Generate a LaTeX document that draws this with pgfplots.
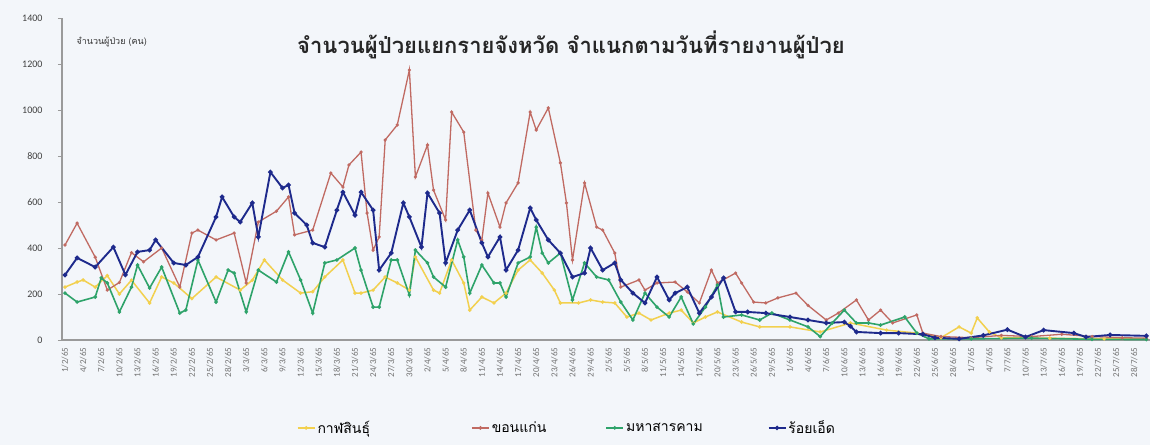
\documentclass[border=0pt]{standalone}
\usepackage{pgfplots}
\pgfplotsset{compat=1.18}
\usepackage{fontspec}
\setmainfont{Carlito}
\newfontfamily\thai[Script=Thai]{Loma}
\usetikzlibrary{backgrounds}

\definecolor{bgc}{HTML}{F3F6FA}
\definecolor{kls}{HTML}{F2D04E}
\definecolor{kkn}{HTML}{C06A62}
\definecolor{mks}{HTML}{2EA36A}
\definecolor{roi}{HTML}{1E2A8C}
\definecolor{axc}{HTML}{9A9A9A}

\begin{document}
\begin{tikzpicture}
\begin{axis}[
    at={(0,0)}, anchor=south west,
    scale only axis,
    width=1088pt, height=322pt,
    xmin=-0.5, xmax=179.6,
    ymin=0, ymax=1400,
    axis x line*=bottom, axis y line*=left,
    axis line style={axc, line width=1.2pt},
    ytick={0,200,...,1400},
    xtick={0,3,...,177},
    xticklabels={1/2/65,4/2/65,7/2/65,10/2/65,13/2/65,16/2/65,19/2/65,22/2/65,25/2/65,28/2/65,
                 3/3/65,6/3/65,9/3/65,12/3/65,15/3/65,18/3/65,21/3/65,24/3/65,27/3/65,30/3/65,
                 2/4/65,5/4/65,8/4/65,11/4/65,14/4/65,17/4/65,20/4/65,23/4/65,26/4/65,29/4/65,
                 2/5/65,5/5/65,8/5/65,11/5/65,14/5/65,17/5/65,20/5/65,23/5/65,26/5/65,29/5/65,
                 1/6/65,4/6/65,7/6/65,10/6/65,13/6/65,16/6/65,19/6/65,22/6/65,25/6/65,28/6/65,
                 1/7/65,4/7/65,7/7/65,10/7/65,13/7/65,16/7/65,19/7/65,22/7/65,25/7/65,28/7/65},
    x tick label style={rotate=90, anchor=east, font=\fontsize{9}{9}\selectfont, text=black!55},
    y tick label style={font=\fontsize{10}{10}\selectfont, text=black!75, xshift=-12pt},
    /pgf/number format/assume math mode=true,
    /pgf/number format/1000 sep={},
    scaled y ticks=false,
    major tick length=4pt,
    xtick style={draw=none},
    ytick style={axc, line width=1pt},
    tick align=outside,
    legend columns=4,
    legend style={at={(0.464,-0.273)}, anchor=center, draw=none, fill=none,
        font=\thai\fontsize{14}{14}\selectfont,
        /tikz/column 2/.append style={column sep=99pt},
        /tikz/column 4/.append style={column sep=57pt},
        /tikz/column 6/.append style={column sep=63pt}},
    legend image post style={line width=1.6pt},
    every axis plot/.append style={mark=*},
]
\addplot[kls, line width=1.5pt, mark size=0.9pt] coordinates {
(0,230)(2,252)(3,261)(5,230)(7,280)(9,200)(11,260)(14,161)(16,274)(18,248)(21,180)(25,274)(29,217)(31,260)(33,348)(36,261)(39,204)(41,210)(43,274)(46,348)(48,204)(49,204)(51,217)(53,274)(55,248)(57,217)(58,361)(61,217)(62,204)(64,348)(66,248)(67,130)(69,187)(71,161)(73,204)(75,304)(77,348)(79,291)(81,217)(82,161)(85,161)(87,174)(89,165)(91,161)(93,100)(95,117)(97,87)(100,117)(102,130)(104,74)(106,100)(108,122)(112,78)(115,57)(120,57)(125,35)(130,74)(136,43)(141,30)(145,10)(148,57)(150,30)(151,96)(153,35)(155,10)(163,8)(172,5)(179,5)};
\addlegendentry{กาฬสินธุ์}
\addplot[kkn, line width=1.3pt, mark size=0.9pt] coordinates {
(0,413)(2,508)(5,360)(7,217)(9,250)(11,380)(13,340)(16,400)(19,230)(21,465)(22,478)(25,435)(28,465)(30,248)(32,513)(35,560)(37,622)(38,457)(41,478)(44,726)(46,665)(47,761)(49,817)(50,552)(51,391)(52,448)(53,870)(55,935)(57,1174)(58,709)(60,848)(61,652)(63,522)(64,991)(66,904)(68,478)(69,435)(70,639)(72,491)(73,596)(75,683)(77,991)(78,913)(80,1009)(82,770)(83,596)(84,348)(86,683)(88,491)(89,478)(91,378)(92,230)(95,261)(96,217)(98,248)(101,252)(103,209)(105,161)(107,304)(108,248)(111,291)(112,248)(114,165)(116,161)(118,183)(121,204)(123,150)(126,87)(128,117)(131,174)(133,87)(135,130)(137,74)(141,109)(142,30)(145,15)(150,10)(155,20)(160,15)(165,25)(170,15)(175,10)(179,8)};
\addlegendentry{ขอนแก่น}
\addplot[mks, line width=1.6pt, mark size=0.9pt] coordinates {
(0,204)(2,165)(5,187)(6,270)(7,248)(9,122)(11,230)(12,326)(14,226)(16,317)(19,117)(20,130)(22,348)(25,165)(27,304)(28,291)(30,122)(32,304)(35,252)(37,383)(39,261)(41,117)(43,335)(45,348)(48,400)(49,304)(51,143)(52,143)(54,348)(55,348)(57,196)(58,391)(60,335)(61,274)(63,230)(65,435)(66,361)(67,204)(69,326)(71,248)(72,248)(73,187)(75,335)(77,361)(78,491)(79,378)(80,335)(82,378)(84,174)(86,335)(88,274)(90,261)(92,165)(94,87)(96,204)(98,143)(100,100)(102,187)(104,70)(106,143)(108,239)(109,100)(112,109)(115,87)(117,117)(120,87)(123,57)(125,15)(127,74)(129,130)(131,74)(133,74)(135,65)(139,100)(141,30)(143,5)(150,5)(160,8)(170,3)(179,2)};
\addlegendentry{มหาสารคาม}
\addplot[roi, line width=1.9pt, mark size=1.3pt] coordinates {
(0,283)(2,357)(5,317)(8,404)(10,283)(12,383)(14,391)(15,435)(18,335)(20,326)(22,361)(25,535)(26,622)(28,535)(29,513)(31,596)(32,448)(34,730)(36,661)(37,674)(38,552)(40,500)(41,422)(43,404)(45,565)(46,643)(48,543)(49,643)(51,565)(52,304)(54,378)(56,596)(57,535)(59,404)(60,639)(62,552)(63,335)(65,478)(67,565)(69,422)(70,361)(72,448)(73,304)(75,391)(77,574)(78,522)(80,435)(82,378)(84,274)(86,291)(87,400)(89,304)(91,335)(92,261)(94,204)(96,161)(98,274)(100,174)(101,204)(103,230)(105,117)(107,187)(109,270)(111,122)(113,122)(116,117)(120,100)(123,87)(126,74)(129,78)(130,60)(131,35)(135,30)(138,30)(142,25)(144,10)(148,5)(152,20)(156,45)(159,13)(162,43)(167,30)(169,13)(173,22)(179,18)};
\addlegendentry{ร้อยเอ็ด}
\end{axis}
\node[anchor=west, font=\thai\fontsize{9}{9}\selectfont, text=black!80] at (11pt,298pt) {จำนวนผู้ป่วย (คน)};
\node[font=\thai\bfseries\fontsize{22}{22}\selectfont, text=black!85] at (509pt,295pt) {จำนวนผู้ป่วยแยกรายจังหวัด จำแนกตามวันที่รายงานผู้ป่วย};
\pgfresetboundingbox
\useasboundingbox (-62pt,-105pt) rectangle (1088pt,340pt);
\begin{pgfonlayer}{background}
\fill[bgc] (-62pt,-105pt) rectangle (1088pt,340pt);
\end{pgfonlayer}
\end{tikzpicture}
\end{document}
